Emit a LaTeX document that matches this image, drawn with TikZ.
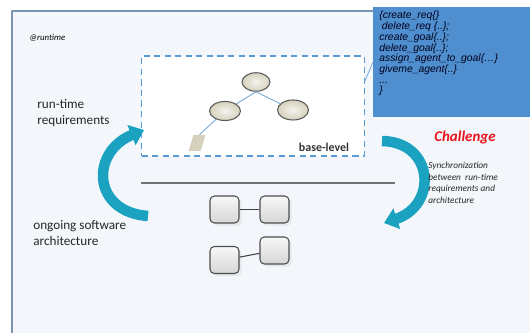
\documentclass[tikz,border=0pt]{standalone}
\usepackage{fontspec}
\setmainfont{Carlito}
\newfontfamily\codefont{Liberation Sans}
\usetikzlibrary{arrows.meta,shapes.geometric,shadows}
\definecolor{panelbg}{HTML}{F3F7FB}
\definecolor{panelline}{HTML}{7A95B5}
\definecolor{codeblue}{HTML}{4F8ECF}
\definecolor{dashblue}{HTML}{5B9BD5}
\definecolor{cyclecol}{HTML}{1AA2C0}
\definecolor{goalfill}{HTML}{D6D1BC}
\definecolor{alertred}{HTML}{E8141B}
\tikzset{
  goal/.style={ellipse,draw=black!65,line width=0.6pt,inner sep=0pt,
    inner color=white!75!goalfill,outer color=goalfill},
  leaf/.style={rectangle,fill=goalfill,inner sep=0pt,xslant=0.3,
    minimum width=0.24cm,minimum height=0.32cm},
  comp/.style={rectangle,rounded corners=2.5pt,draw=black!70,line width=0.6pt,
    top color=gray!6,bottom color=gray!32,minimum width=0.58cm,minimum height=0.54cm,
    drop shadow={opacity=0.12,shadow xshift=1.5pt,shadow yshift=-1.5pt}},
  treelink/.style={draw=dashblue!85,line width=0.5pt},
  complink/.style={draw=black!75,line width=0.6pt},
  cycle/.style={draw=cyclecol,line width=0.21cm,
    -{Triangle[length=0.27cm,width=0.42cm]}},
  lbl/.style={font=\fontsize{7.5}{8.6}\selectfont,align=left,inner sep=0pt,text=black!85}
}
\begin{document}
\begin{tikzpicture}[x=0.02cm,y=-0.02cm,line join=round]
  \useasboundingbox (0,0) rectangle (530,333);
  \fill[white] (0,0) rectangle (530,333);
  \draw[fill=panelbg,draw=panelline,line width=0.7pt] (12,11) rectangle (545,350);
  % meta-level api
  \node[rectangle,fill=codeblue,inner sep=0pt,anchor=north west,
    minimum width=3.14cm,minimum height=2.2cm] (api) at (373,7) {};
  \node[anchor=north west,inner sep=0pt,align=left,text=black!90!blue,
    font=\codefont\itshape\fontsize{5.9}{6.1}\selectfont] (apitext) at (379,11)
    {\{create\_req\{\}\\
     \hspace{0.25em}delete\_req \{..\};\\
     create\_goal\{..\};\\
     delete\_goal\{..\};\\
     assign\_agent\_to\_goal\{\dots\}\\
     giveme\_agent\{..\}\\
     ...\\
     \}};
  \coordinate (tail) at (361,90);
  \draw[dashblue!80,line width=0.5pt] (api.west) -- (tail);
  % base-level
  \node[rectangle,draw=dashblue,fill=white,line width=1pt,dash pattern=on 3.5pt off 2.5pt,
    minimum width=4.46cm,minimum height=2cm] (base) at (253,106) {};
  \node[font=\bfseries\fontsize{6.8}{8}\selectfont,text=black!80,inner sep=0pt] (baselbl) at (324,147) {base-level};
  \node[goal,minimum width=0.56cm,minimum height=0.37cm] (g0) at (256,82) {};
  \node[goal,minimum width=0.62cm,minimum height=0.38cm] (g1) at (225,111) {};
  \node[goal,minimum width=0.62cm,minimum height=0.4cm] (g2) at (293,110) {};
  \node[leaf] (t1) at (197,143) {};
  \draw[treelink] (g0.south) -- (g1);
  \draw[treelink] (g0.south) -- (g2);
  \draw[treelink] (g1) -- (t1.north);
  % architecture
  \coordinate (sepL) at (141,183);
  \coordinate (sepR) at (395,183);
  \draw[black!55,line width=0.6pt] (sepL) -- (sepR);
  \node[comp] (c1) at (224.5,209.5) {};
  \node[comp] (c2) at (274.5,209.5) {};
  \node[comp] (c3) at (224.5,260) {};
  \node[comp] (c4) at (274.5,250.5) {};
  \draw[complink] (c1) -- (c2);
  \draw[complink] (c3) -- (c4);
  % cycle arrows
  \coordinate (upfrom) at (148,216);
  \coordinate (upto) at (144,130);
  \coordinate (downfrom) at (382,141);
  \coordinate (downto) at (384,223);
  \draw[cycle] (upfrom) .. controls (92,212) and (90,152) .. (upto);
  \draw[cycle] (downfrom) .. controls (434,142) and (438,205) .. (downto);
  % labels
  \node[anchor=west,inner sep=0pt,font=\itshape\fontsize{5}{6}\selectfont] (rt) at (29,38) {@runtime};
  \node[lbl,anchor=west] (req) at (37,113) {run-time\\requirements};
  \node[lbl,anchor=west] (arch) at (33,233) {ongoing software\\architecture};
  \node[font=\bfseries\itshape\fontsize{8.5}{10}\selectfont,text=alertred,inner sep=0pt] (chal) at (465,138) {Challenge};
  \node[anchor=north west,inner sep=0pt,align=left,text=black!85,
    font=\itshape\fontsize{5.3}{6.5}\selectfont] (sync) at (428,162)
    {Synchronization\\between\ \ run-time\\requirements and\\architecture};
\end{tikzpicture}
\end{document}
